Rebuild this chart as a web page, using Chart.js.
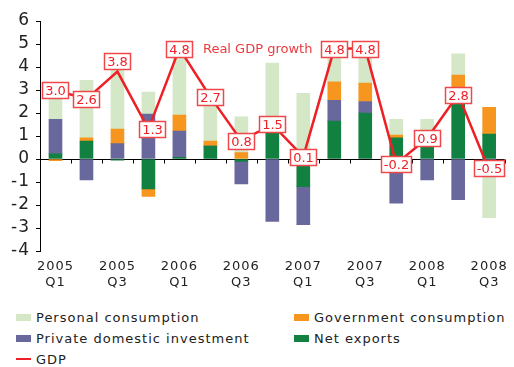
<!DOCTYPE html>
<html>
<head>
<meta charset="utf-8">
<script src="https://cdn.jsdelivr.net/npm/chart.js@4.4.0/dist/chart.umd.min.js"></script>
<style>
  body { margin: 0; background: #fff; font-family: "DejaVu Sans", sans-serif; }
  #wrap { position: relative; width: 514px; height: 367px; overflow: hidden; }
  #chart { position: absolute; left: 0; top: 0; }
  #legend {
    position: absolute; left: 16px; top: 309px;
    display: grid; grid-template-columns: 278px 220px; row-gap: 5px;
    font-size: 13px; letter-spacing: 1px; color: #222;
  }
  .item { display: flex; align-items: center; height: 16px; white-space: nowrap; }
  .sw { width: 15px; height: 7px; margin-right: 5px; flex: none; }
  .sw.line { height: 2px; }
</style>
</head>
<body>
<div id="wrap">
  <canvas id="chart" width="514" height="300"></canvas>
  <div id="legend"></div>
</div>
<script>
// Contributions to real GDP growth, percentage points, by quarter
const quarters = ['2005 Q1', '2005 Q2', '2005 Q3', '2005 Q4', '2006 Q1', '2006 Q2', '2006 Q3', '2006 Q4',
                  '2007 Q1', '2007 Q2', '2007 Q3', '2007 Q4', '2008 Q1', '2008 Q2', '2008 Q3'];
const personal   = [1.40, 2.50, 2.60, 0.96, 2.80, 1.90, 1.55, 3.05, 2.85, 1.40, 1.50, 0.69, 1.18, 0.92, -2.25];
const government = [-0.07, 0.14, 0.63, -0.33, 0.70, 0.22, 0.28, 0.00, 0.00, 0.80, 0.80, 0.12, 0.00, 1.00, 1.17];
const investment = [1.50, -0.91, 0.67, 1.95, 1.14, 0.00, -0.98, -2.71, -1.66, 0.90, 0.50, -1.92, -0.91, -1.77, -0.30];
const netExports = [0.22, 0.78, -0.05, -1.30, 0.07, 0.56, -0.10, 1.12, -1.20, 1.65, 2.00, 0.92, 0.55, 2.65, 1.08];
const gdp        = [3.0, 2.6, 3.8, 1.3, 4.8, 2.7, 0.8, 1.5, 0.1, 4.8, 4.8, -0.2, 0.9, 2.8, -0.5];
const yTicks = { min: -4, max: 6, step: 1 };

const RED = '#ee2026';
const FONT = '"DejaVu Sans", sans-serif';

Chart.defaults.font.family = FONT;

// small tick marks hanging under the zero line, one per quarter boundary
const zeroTicks = {
  id: 'zeroTicks',
  afterDatasetsDraw(chart) {
    const { ctx, scales: { x, y } } = chart;
    const y0 = Math.round(y.getPixelForValue(0)) + 0.5;
    const half = (x.getPixelForValue(1) - x.getPixelForValue(0)) / 2;
    ctx.save();
    ctx.strokeStyle = '#000';
    ctx.lineWidth = 1;
    ctx.beginPath();
    for (let i = 0; i <= quarters.length; i++) {
      const px = Math.round(x.getPixelForValue(i) - half) + 0.5;
      ctx.moveTo(px, y0);
      ctx.lineTo(px, y0 + 4);
    }
    ctx.stroke();
    ctx.restore();
  }
};

// boxed GDP values on the line, plus the series caption
const gdpLabels = {
  id: 'gdpLabels',
  afterDraw(chart) {
    const { ctx, scales: { x, y } } = chart;
    const meta = chart.getDatasetMeta(0);
    const nudge = { 2: [0, -11], 3: [4, 0], 14: [0, -3] };
    ctx.save();
    ctx.letterSpacing = '0px';
    ctx.font = '13px ' + FONT;
    ctx.textAlign = 'center';
    ctx.textBaseline = 'middle';
    meta.data.forEach((pt, i) => {
      const text = gdp[i].toFixed(1);
      const [dx, dy] = nudge[i] || [0, 0];
      const w = Math.round(ctx.measureText(text).width + 5);
      const h = 16;
      const bx = Math.round(pt.x + dx - w / 2) + 0.5;
      const by = Math.round(pt.y + dy - h / 2) + 0.5;
      ctx.fillStyle = '#fff';
      ctx.fillRect(bx, by, w, h);
      ctx.strokeStyle = '#f0474b';
      ctx.lineWidth = 1.5;
      ctx.strokeRect(bx, by, w, h);
      ctx.fillStyle = RED;
      ctx.fillText(text, bx + w / 2, by + h / 2 + 1);
    });
    ctx.textAlign = 'left';
    ctx.fillStyle = '#ec3a3f';
    const step = x.getPixelForValue(1) - x.getPixelForValue(0);
    ctx.fillText('Real GDP growth', x.getPixelForValue(4) + step * 0.76, y.getPixelForValue(4.75));
    ctx.restore();
  }
};

// spaced-out axis lettering
const spacing = {
  id: 'spacing',
  beforeDraw(chart) { chart.ctx.letterSpacing = '1px'; }
};

const barStyle = { barThickness: 13, order: 1, stack: 'parts' };

const chart = new Chart(document.getElementById('chart'), {
  type: 'bar',
  data: {
    labels: quarters,
    datasets: [
      { type: 'line', label: 'GDP', data: gdp, borderColor: RED, borderWidth: 2.5,
        pointRadius: 0, tension: 0, order: 0, stack: 'gdp' },
      { label: 'Net exports', data: netExports, backgroundColor: '#118041', ...barStyle },
      { label: 'Private domestic investment', data: investment, backgroundColor: '#69689d', ...barStyle },
      { label: 'Government consumption', data: government, backgroundColor: '#f7961e', ...barStyle },
      { label: 'Personal consumption', data: personal, backgroundColor: '#d4e8c8', ...barStyle }
    ]
  },
  options: {
    responsive: false,
    animation: false,
    layout: { padding: { top: 21, right: 9, left: 0, bottom: 0 } },
    plugins: { legend: { display: false }, tooltip: { enabled: false } },
    scales: {
      x: {
        stacked: true,
        grid: { display: false, drawTicks: false },
        border: { display: false },
        ticks: {
          autoSkip: false, maxRotation: 0, padding: 8, color: '#222',
          font: { size: 13 },
          callback: (v, i) => (i % 2 === 0 ? quarters[i].split(' ') : '')
        },
        afterFit(s) { s.height = 49; }
      },
      y: {
        stacked: true,
        min: yTicks.min, max: yTicks.max,
        ticks: { stepSize: yTicks.step, autoSkip: false, color: '#222', font: { size: 17 }, padding: 6 },
        grid: {
          color: c => (c.tick && c.tick.value === 0 ? '#000' : 'rgba(0,0,0,0)'),
          tickColor: '#000', tickLength: 4, lineWidth: 1
        },
        border: { color: '#000', width: 1 },
        afterFit(s) { s.width = 40; }
      }
    }
  },
  plugins: [spacing, zeroTicks, gdpLabels]
});

// two-column legend under the chart
const legendOrder = ['Personal consumption', 'Government consumption',
                     'Private domestic investment', 'Net exports', 'GDP'];
const legend = document.getElementById('legend');
legendOrder.forEach(name => {
  const ds = chart.data.datasets.find(d => d.label === name);
  const item = document.createElement('div');
  item.className = 'item';
  const sw = document.createElement('span');
  sw.className = ds.type === 'line' ? 'sw line' : 'sw';
  sw.style.background = ds.type === 'line' ? ds.borderColor : ds.backgroundColor;
  item.appendChild(sw);
  item.appendChild(document.createTextNode(name));
  legend.appendChild(item);
});
</script>
</body>
</html>
